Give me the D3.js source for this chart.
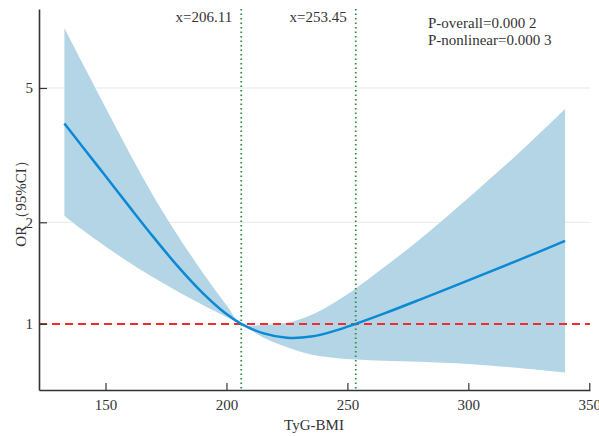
<!DOCTYPE html>
<html>
<head>
<meta charset="utf-8">
<script src="https://cdn.jsdelivr.net/npm/d3@7"></script>
<style>
  body { margin: 0; background: #fff; }
  svg text { font-family: "Liberation Serif", "Times New Roman", serif; fill: #333; }
</style>
</head>
<body>
<div class="playground"></div>
<script>
// values
var xVals   = [133, 140, 150, 160, 170, 180, 190, 200, 206.11, 215, 225, 235, 245, 253.45, 265, 280, 300, 320, 340];
var orVals  = [3.926, 3.385, 2.741, 2.218, 1.801, 1.478, 1.238, 1.069, 1.0, 0.939, 0.910, 0.917, 0.955, 1.0, 1.072, 1.18, 1.345, 1.537, 1.761];
var upVals  = [7.53, 6.01, 4.378, 3.199, 2.378, 1.823, 1.426, 1.138, 1.0, 0.993, 1.007, 1.063, 1.162, 1.274, 1.468, 1.783, 2.362, 3.167, 4.334];
var lowVals = [2.092, 1.910, 1.696, 1.518, 1.370, 1.246, 1.140, 1.049, 1.0, 0.913, 0.853, 0.812, 0.793, 0.784, 0.778, 0.773, 0.761, 0.741, 0.717];
var xTicks = [150, 200, 250, 300, 350];
var yTicks = [1, 2, 5];
var cutoffs = [206.11, 253.45];
var pTexts = ["P-overall=0.000 2", "P-nonlinear=0.000 3"];

var width = 599, height = 436;
var m = {left: 39, right: 590, top: 9, bottom: 390};

var svg = d3.select('.playground')
  .append('svg')
  .attr('width', width)
  .attr('height', height);

var x = d3.scaleLinear().domain([122.5, 350.3]).range([m.left, m.right]);
var y = d3.scaleLog().domain([0.637, 8.57]).range([m.bottom, m.top]);

var data = xVals.map(function(d, i) {
  return {x: d, or: orVals[i], up: upVals[i], low: lowVals[i]};
});

// grid lines
svg.selectAll('.grid')
  .data(yTicks)
  .enter()
  .append('line')
  .attr('x1', m.left).attr('x2', m.right)
  .attr('y1', function(d){ return y(d); })
  .attr('y2', function(d){ return y(d); })
  .attr('stroke', '#e8e8e8')
  .attr('stroke-width', 1);

// CI band
var band = d3.area()
  .x(function(d){ return x(d.x); })
  .y0(function(d){ return y(d.low); })
  .y1(function(d){ return y(d.up); })
  .curve(d3.curveCatmullRom.alpha(0.5));

svg.append('path')
  .datum(data)
  .attr('d', band)
  .attr('fill', '#b4d5e5');

// reference line at OR = 1
svg.append('line')
  .attr('x1', m.left).attr('x2', m.right)
  .attr('y1', y(1)).attr('y2', y(1))
  .attr('stroke', '#ee2e2e')
  .attr('stroke-width', 2)
  .attr('stroke-dasharray', '8,5');

// cutoff lines
svg.selectAll('.cut')
  .data(cutoffs)
  .enter()
  .append('line')
  .attr('x1', function(d){ return x(d); })
  .attr('x2', function(d){ return x(d); })
  .attr('y1', m.top).attr('y2', m.bottom)
  .attr('stroke', '#2f8f3a')
  .attr('stroke-width', 1.8)
  .attr('stroke-dasharray', '1.5,3');

svg.selectAll('.cutlab')
  .data(cutoffs)
  .enter()
  .append('text')
  .attr('x', function(d){ return x(d) - 9; })
  .attr('y', 22)
  .attr('text-anchor', 'end')
  .style('font-size', '15px')
  .text(function(d){ return 'x=' + d.toFixed(2); });

// OR curve
var line = d3.line()
  .x(function(d){ return x(d.x); })
  .y(function(d){ return y(d.or); })
  .curve(d3.curveCatmullRom.alpha(0.5));

svg.append('path')
  .datum(data)
  .attr('d', line)
  .attr('fill', 'none')
  .attr('stroke', '#0a8ad6')
  .attr('stroke-width', 2.5);

// axes
var xAxis = d3.axisBottom(x).tickValues(xTicks).tickSizeInner(-7).tickSizeOuter(0).tickPadding(9);
var gx = svg.append('g')
  .attr('transform', 'translate(0,' + m.bottom + ')')
  .call(xAxis);

var yAxis = d3.axisLeft(y).tickValues(yTicks).tickFormat(d3.format('d')).tickSizeInner(-8).tickSizeOuter(0).tickPadding(6);
var gy = svg.append('g')
  .attr('transform', 'translate(' + m.left + ',0)')
  .call(yAxis);

[gx, gy].forEach(function(g) {
  g.select('.domain').attr('stroke', '#333').attr('stroke-width', 1.6);
  g.selectAll('.tick line').attr('stroke', '#333').attr('stroke-width', 1.2);
  g.selectAll('.tick text')
    .style('font-family', '"Liberation Serif", "Times New Roman", serif')
    .style('font-size', '15px')
    .attr('fill', '#333');
});

// p values
svg.selectAll('.ptext')
  .data(pTexts)
  .enter()
  .append('text')
  .attr('x', 428)
  .attr('y', function(d, i){ return 28 + i * 17; })
  .style('font-size', '15px')
  .text(function(d){ return d; });

// axis titles
svg.append('text')
  .attr('x', 314)
  .attr('y', 430)
  .attr('text-anchor', 'middle')
  .style('font-size', '15px')
  .text('TyG-BMI');

svg.append('text')
  .attr('transform', 'translate(26,200) rotate(-90)')
  .attr('text-anchor', 'middle')
  .style('font-size', '15px')
  .text('OR（95%CI）');
</script>
</body>
</html>
